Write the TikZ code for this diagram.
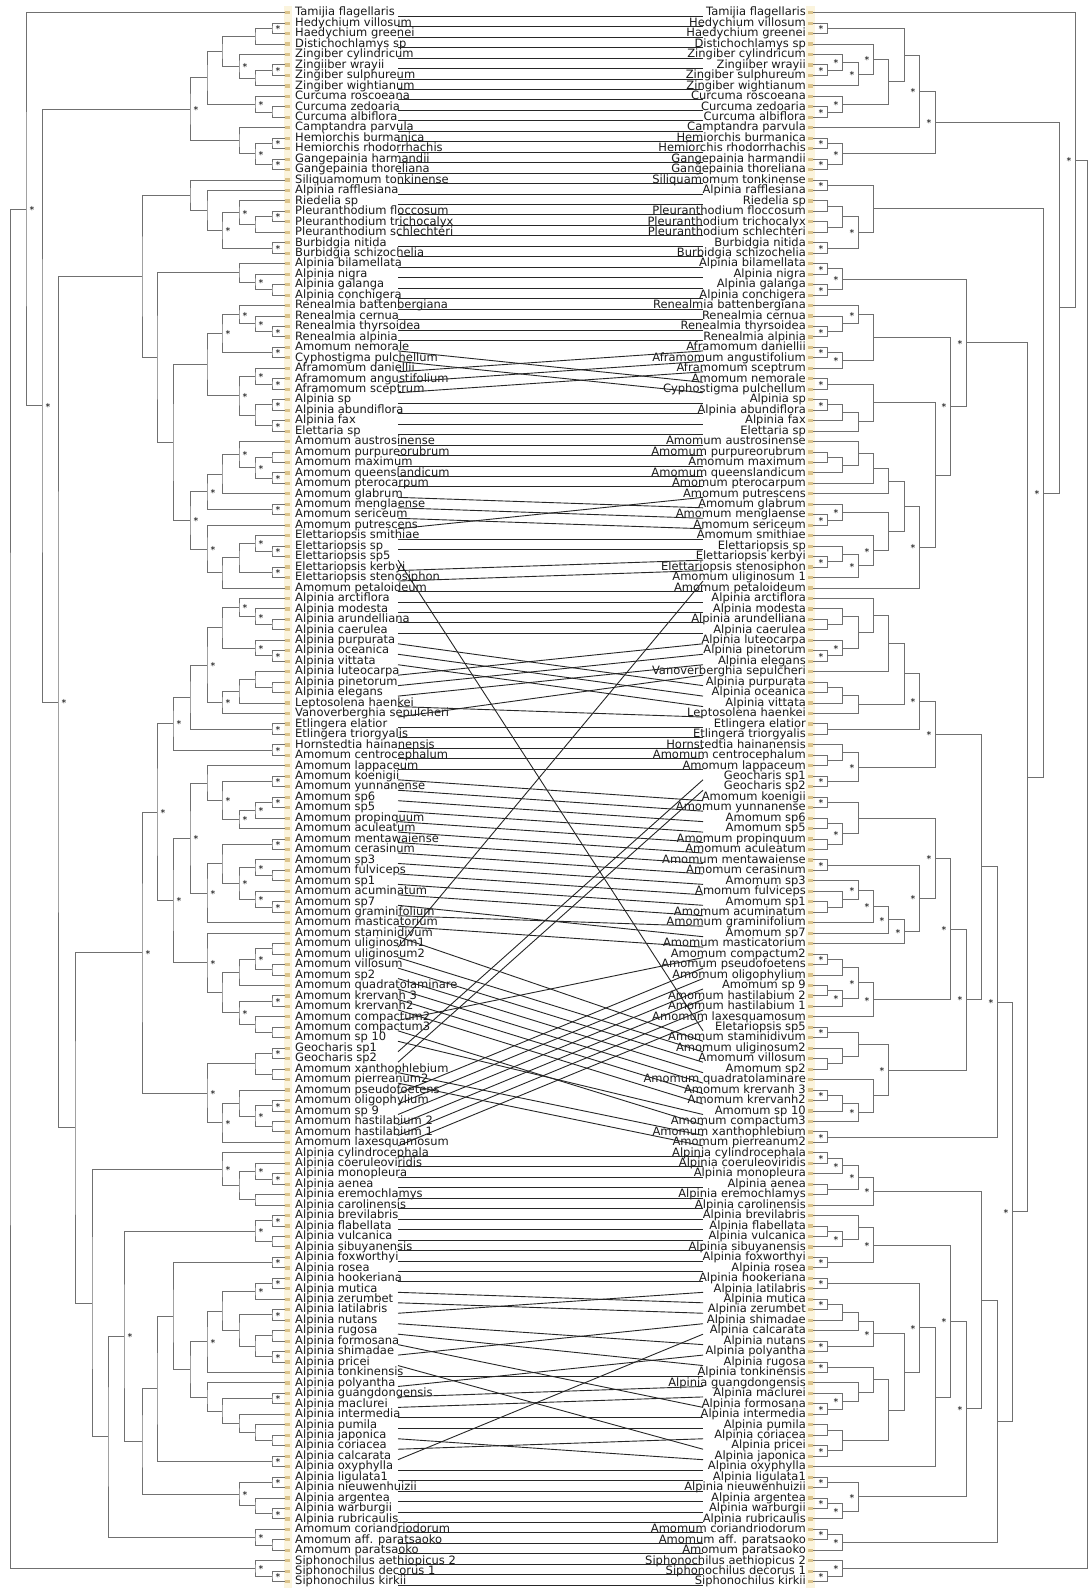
\documentclass[tikz,border=0pt]{standalone}
\usepackage{fontspec}
\setmainfont{DejaVu Sans}
\usetikzlibrary{calc}
\definecolor{branchc}{HTML}{707070}
\definecolor{connc}{HTML}{262626}
\definecolor{tipc}{HTML}{DCC48C}
\definecolor{bandc}{HTML}{FBF4DD}
\definecolor{txtc}{HTML}{1A1A1A}
\tikzset{
  branch/.style={draw=branchc, line width=1pt},
  conn/.style={draw=connc, line width=0.9pt},
  lab/.style={font=\fontsize{11.5}{12}\selectfont, text=txtc, inner sep=0pt},
  astl/.style={font=\fontsize{9.5}{9.5}\selectfont, text=black, inner sep=0pt, text height=7pt, text depth=0pt, xshift=6pt, yshift=-0.8pt},
  astr/.style={font=\fontsize{9.5}{9.5}\selectfont, text=black, inner sep=0pt, text height=7pt, text depth=0pt, xshift=-6pt, yshift=-0.8pt},
}
% internal tree node: name, x, child A, child B
\newcommand\TN[4]{\path let \p1=($(#3)!0.5!(#4)$) in coordinate (#1) at (#2pt,\y1);\draw[branch] (#3) -| (#1) |- (#4);}
\newcommand\TNl[4]{\TN{#1}{#2}{#3}{#4}\node[astl] (#1s) at (#1) {*};}
\newcommand\TNr[4]{\TN{#1}{#2}{#3}{#4}\node[astr] (#1s) at (#1) {*};}
\begin{document}
\begin{tikzpicture}[x=1pt,y=-1pt]
\fill[white] (0,0) rectangle (1088,1589);
\useasboundingbox (0,0) rectangle (1088,1589);
\fill[bandc] (284,6) rectangle (292,1588);
\fill[bandc] (806,6) rectangle (815,1588);
% left taxa
\foreach \n [count=\i] in {Tamijia flagellaris, Hedychium villosum, Haedychium greenei, Distichochlamys sp, Zingiber cylindricum, Zingiiber wrayii, Zingiber sulphureum, Zingiber wightianum, Curcuma roscoeana, Curcuma zedoaria, Curcuma albiflora, Camptandra parvula, Hemiorchis burmanica, Hemiorchis rhodorrhachis, Gangepainia harmandii, Gangepainia thoreliana, Siliquamomum tonkinense, Alpinia rafflesiana, Riedelia sp, Pleuranthodium floccosum, Pleuranthodium trichocalyx, Pleuranthodium schlechteri, Burbidgia nitida, Burbidgia schizochelia, Alpinia bilamellata, Alpinia nigra, Alpinia galanga, Alpinia conchigera, Renealmia battenbergiana, Renealmia cernua, Renealmia thyrsoidea, Renealmia alpinia, Amomum nemorale, Cyphostigma pulchellum, Aframomum daniellii, Aframomum angustifolium, Aframomum sceptrum, Alpinia sp, Alpinia abundiflora, Alpinia fax, Elettaria sp, Amomum austrosinense, Amomum purpureorubrum, Amomum maximum, Amomum queenslandicum, Amomum pterocarpum, Amomum glabrum, Amomum menglaense, Amomum sericeum, Amomum putrescens, Elettariopsis smithiae, Elettariopsis sp, Elettariopsis sp5, Elettariopsis kerbyi, Elettariopsis stenosiphon, Amomum petaloideum, Alpinia arctiflora, Alpinia modesta, Alpinia arundelliana, Alpinia caerulea, Alpinia purpurata, Alpinia oceanica, Alpinia vittata, Alpinia luteocarpa, Alpinia pinetorum, Alpinia elegans, Leptosolena haenkei, Vanoverberghia sepulcheri, Etlingera elatior, Etlingera triorgyalis, Hornstedtia hainanensis, Amomum centrocephalum, Amomum lappaceum, Amomum koenigii, Amomum yunnanense, Amomum sp6, Amomum sp5, Amomum propinquum, Amomum aculeatum, Amomum mentawaiense, Amomum cerasinum, Amomum sp3, Amomum fulviceps, Amomum sp1, Amomum acuminatum, Amomum sp7, Amomum graminifolium, Amomum masticatorium, Amomum staminidivum, Amomum uliginosum1, Amomum uliginosum2, Amomum villosum, Amomum sp2, Amomum quadratolaminare, Amomum krervanh 3, Amomum krervanh2, Amomum compactum2, Amomum compactum3, Amomum sp 10, Geocharis sp1, Geocharis sp2, Amomum xanthophlebium, Amomum pierreanum2, Amomum pseudofoetens, Amomum oligophylium, Amomum sp 9, Amomum hastilabium 2, Amomum hastilabium 1, Amomum laxesquamosum, Alpinia cylindrocephala, Alpinia coeruleoviridis, Alpinia monopleura, Alpinia aenea, Alpinia eremochlamys, Alpinia carolinensis, Alpinia brevilabris, Alpinia flabellata, Alpinia vulcanica, Alpinia sibuyanensis, Alpinia foxworthyi, Alpinia rosea, Alpinia hookeriana, Alpinia mutica, Alpinia zerumbet, Alpinia latilabris, Alpinia nutans, Alpinia rugosa, Alpinia formosana, Alpinia shimadae, Alpinia pricei, Alpinia tonkinensis, Alpinia polyantha, Alpinia guangdongensis, Alpinia maclurei, Alpinia intermedia, Alpinia pumila, Alpinia japonica, Alpinia coriacea, Alpinia calcarata, Alpinia oxyphylla, Alpinia ligulata1, Alpinia nieuwenhuizii, Alpinia argentea, Alpinia warburgii, Alpinia rubricaulis, Amomum coriandriodorum, Amomum aff. paratsaoko, Amomum paratsaoko, Siphonochilus aethiopicus 2, Siphonochilus decorus 1, Siphonochilus kirkii}{
  \pgfmathsetmacro\yy{12.7+(\i-1)*10.46}
  \coordinate (lt\i) at (285,\yy);
  \coordinate (lc\i) at (398,{\yy+3.5});
  \node[lab,anchor=base west] (ll\i) at (295,{\yy+3.2}) {\n};
}
% right taxa
\foreach \n [count=\i] in {Tamijia flagellaris, Hedychium villosum, Haedychium greenei, Distichochlamys sp, Zingiber cylindricum, Zingiiber wrayii, Zingiber sulphureum, Zingiber wightianum, Curcuma roscoeana, Curcuma zedoaria, Curcuma albiflora, Camptandra parvula, Hemiorchis burmanica, Hemiorchis rhodorrhachis, Gangepainia harmandii, Gangepainia thoreliana, Siliquamomum tonkinense, Alpinia rafflesiana, Riedelia sp, Pleuranthodium floccosum, Pleuranthodium trichocalyx, Pleuranthodium schlechteri, Burbidgia nitida, Burbidgia schizochelia, Alpinia bilamellata, Alpinia nigra, Alpinia galanga, Alpinia conchigera, Renealmia battenbergiana, Renealmia cernua, Renealmia thyrsoidea, Renealmia alpinia, Aframomum daniellii, Aframomum angustifolium, Aframomum sceptrum, Amomum nemorale, Cyphostigma pulchellum, Alpinia sp, Alpinia abundiflora, Alpinia fax, Elettaria sp, Amomum austrosinense, Amomum purpureorubrum, Amomum maximum, Amomum queenslandicum, Amomum pterocarpum, Amomum putrescens, Amomum glabrum, Amomum menglaense, Amomum sericeum, Amomum smithiae, Elettariopsis sp, Elettariopsis kerbyi, Elettariopsis stenosiphon, Amomum uliginosum 1, Amomum petaloideum, Alpinia arctiflora, Alpinia modesta, Alpinia arundelliana, Alpinia caerulea, Alpinia luteocarpa, Alpinia pinetorum, Alpinia elegans, Vanoverberghia sepulcheri, Alpinia purpurata, Alpinia oceanica, Alpinia vittata, Leptosolena haenkei, Etlingera elatior, Etlingera triorgyalis, Hornstedtia hainanensis, Amomum centrocephalum, Amomum lappaceum, Geocharis sp1, Geocharis sp2, Amomum koenigii, Amomum yunnanense, Amomum sp6, Amomum sp5, Amomum propinquum, Amomum aculeatum, Amomum mentawaiense, Amomum cerasinum, Amomum sp3, Amomum fulviceps, Amomum sp1, Amomum acuminatum, Amomum graminifolium, Amomum sp7, Amomum masticatorium, Amomum compactum2, Amomum pseudofoetens, Amomum oligophylium, Amomum sp 9, Amomum hastilabium 2, Amomum hastilabium 1, Amomum laxesquamosum, Eletariopsis sp5, Amomum staminidivum, Amomum uliginosum2, Amomum villosum, Amomum sp2, Amomum quadratolaminare, Amomum krervanh 3, Amomum krervanh2, Amomum sp 10, Amomum compactum3, Amomum xanthophlebium, Amomum pierreanum2, Alpinia cylindrocephala, Alpinia coeruleoviridis, Alpinia monopleura, Alpinia aenea, Alpinia eremochlamys, Alpinia carolinensis, Alpinia brevilabris, Alpinia flabellata, Alpinia vulcanica, Alpinia sibuyanensis, Alpinia foxworthyi, Alpinia rosea, Alpinia hookeriana, Alpinia latilabris, Alpinia mutica, Alpinia zerumbet, Alpinia shimadae, Alpinia calcarata, Alpinia nutans, Alpinia polyantha, Alpinia rugosa, Alpinia tonkinensis, Alpinia guangdongensis, Alpinia maclurei, Alpinia formosana, Alpinia intermedia, Alpinia pumila, Alpinia coriacea, Alpinia pricei, Alpinia japonica, Alpinia oxyphylla, Alpinia ligulata1, Alpinia nieuwenhuizii, Alpinia argentea, Alpinia warburgii, Alpinia rubricaulis, Amomum coriandriodorum, Amomum aff. paratsaoko, Amomum paratsaoko, Siphonochilus aethiopicus 2, Siphonochilus decorus 1, Siphonochilus kirkii}{
  \pgfmathsetmacro\yy{12.7+(\i-1)*10.46}
  \coordinate (rt\i) at (813,\yy);
  \coordinate (rc\i) at (703,{\yy+3.5});
  \node[lab,anchor=base east] (rl\i) at (806,{\yy+3.2}) {\n};
}
% connectors
\foreach \a/\b in {1/1,2/2,3/3,4/4,5/5,6/6,7/7,8/8,9/9,10/10,11/11,12/12,13/13,14/14,15/15,16/16,17/17,18/18,19/19,20/20,21/21,22/22,23/23,24/24,25/25,26/26,27/27,28/28,29/29,30/30,31/31,32/32,33/36,34/37,35/33,36/34,37/35,38/38,39/39,40/40,41/41,42/42,43/43,44/44,45/45,46/46,47/48,48/49,49/50,50/47,51/51,52/52,53/98,54/53,55/54,56/56,57/57,58/58,59/59,60/60,61/65,62/66,63/67,64/61,65/62,66/63,67/68,68/64,69/69,70/70,71/71,72/72,73/73,74/76,75/77,76/78,77/79,78/80,79/81,80/82,81/83,82/84,83/85,84/86,85/87,86/89,87/88,88/90,89/99,90/55,91/100,92/101,93/102,94/103,95/104,96/105,97/91,98/107,99/106,100/74,101/75,102/108,103/109,104/92,105/93,106/94,107/95,108/96,109/97,110/110,111/111,112/112,113/113,114/114,115/115,116/116,117/117,118/118,119/119,120/120,121/121,122/122,123/124,124/125,125/123,126/128,127/130,128/134,129/126,130/138,131/131,132/129,133/132,134/133,135/135,136/136,137/139,138/137,139/127,140/140,141/141,142/142,143/143,144/144,145/145,146/146,147/147,148/148,149/149,150/150,151/151}
  {\draw[conn] (lc\a) -- (rc\b);}
% ---------- left tree ----------
\TNl{LA1}{272}{lt2}{lt3}
\TN{LA2}{255}{LA1}{lt4}
\TNl{LA3}{272}{lt6}{lt7}
\TN{LA4}{255}{LA3}{lt8}
\TNl{LA5}{239}{lt5}{LA4}
\TN{LA6}{222}{LA2}{LA5}
\TN{LA7}{272}{lt10}{lt11}
\TNl{LA8}{255}{lt9}{LA7}
\TN{LA9}{207}{LA6}{LA8}
\TNl{LA10}{272}{lt13}{lt14}
\TNl{LA11}{272}{lt15}{lt16}
\TNl{LA12}{255}{LA10}{LA11}
\TN{LA13}{239}{lt12}{LA12}
\TNl{LA14}{190}{LA9}{LA13}
\TNl{LB1}{272}{lt20}{lt21}
\TN{LB2}{255}{LB1}{lt22}
\TNl{LB3}{239}{lt19}{LB2}
\TNl{LB4}{272}{lt23}{lt24}
\TNl{LB5}{222}{LB3}{LB4}
\TN{LB6}{207}{lt18}{LB5}
\TN{LB7}{190}{lt17}{LB6}
\TN{LC1}{272}{lt27}{lt28}
\TNl{LC2}{255}{lt26}{LC1}
\TN{LC3}{239}{lt25}{LC2}
\TNl{LD1}{272}{lt31}{lt32}
\TNl{LD2}{255}{lt30}{LD1}
\TNl{LD3}{239}{lt29}{LD2}
\TNl{LD4}{272}{lt33}{lt34}
\TNl{LD5}{222}{LD3}{LD4}
\TNl{LD6}{272}{lt36}{lt37}
\TNl{LD7}{255}{lt35}{LD6}
\TNl{LD8}{272}{lt38}{lt39}
\TNl{LD9}{272}{lt40}{lt41}
\TN{LD10}{255}{LD8}{LD9}
\TNl{LD11}{239}{LD7}{LD10}
\TN{LD12}{207}{LD5}{LD11}
\TN{LE1}{272}{lt43}{lt44}
\TNl{LE2}{272}{lt45}{lt46}
\TNl{LE3}{255}{LE1}{LE2}
\TNl{LE4}{239}{lt42}{LE3}
\TN{LE5}{222}{LE4}{lt47}
\TNl{LE6}{272}{lt48}{lt49}
\TNl{LE7}{207}{LE5}{LE6}
\TNl{LE8}{272}{lt52}{lt53}
\TNl{LE9}{255}{lt51}{LE8}
\TNl{LE10}{272}{lt54}{lt55}
\TN{LE11}{239}{LE9}{LE10}
\TN{LE12}{222}{LE11}{lt56}
\TNl{LE13}{207}{lt50}{LE12}
\TNl{LE14}{190}{LE7}{LE13}
\TN{LE15}{173}{LD12}{LE14}
\TN{LE16}{157}{LC3}{LE15}
\TN{LE17}{142}{LB7}{LE16}
\TN{LF1}{272}{lt59}{lt60}
\TNl{LF2}{255}{lt58}{LF1}
\TNl{LF3}{239}{lt57}{LF2}
\TNl{LF4}{272}{lt62}{lt63}
\TNl{LF5}{255}{lt61}{LF4}
\TN{LF6}{222}{LF3}{LF5}
\TN{LF7}{272}{lt65}{lt66}
\TN{LF8}{255}{lt64}{LF7}
\TN{LF9}{239}{LF8}{lt67}
\TNl{LF10}{222}{LF9}{lt68}
\TNl{LF11}{207}{LF6}{LF10}
\TNl{LF12}{272}{lt69}{lt70}
\TN{LF13}{190}{LF11}{LF12}
\TNl{LF14}{272}{lt71}{lt72}
\TNl{LF15}{173}{LF13}{LF14}
\TNl{LG1}{272}{lt74}{lt75}
\TNl{LG2}{272}{lt76}{lt77}
\TNl{LG3}{255}{LG2}{lt78}
\TNl{LG4}{239}{LG3}{lt79}
\TNl{LG5}{222}{LG1}{LG4}
\TN{LG6}{207}{lt73}{LG5}
\TNl{LG7}{272}{lt80}{lt81}
\TN{LG8}{272}{lt83}{lt84}
\TNl{LG9}{255}{lt82}{LG8}
\TNl{LG10}{272}{lt86}{lt87}
\TNl{LG11}{255}{lt85}{LG10}
\TNl{LG12}{239}{LG9}{LG11}
\TN{LG13}{222}{LG7}{LG12}
\TNl{LG14}{207}{LG13}{lt88}
\TNl{LG15}{190}{LG6}{LG14}
\TN{LG16}{272}{lt90}{lt91}
\TN{LG17}{272}{lt92}{lt93}
\TNl{LG18}{255}{LG16}{LG17}
\TN{LG19}{239}{LG18}{lt94}
\TNl{LG20}{272}{lt95}{lt96}
\TN{LG21}{272}{lt98}{lt99}
\TN{LG22}{255}{lt97}{LG21}
\TNl{LG23}{239}{LG20}{LG22}
\TN{LG24}{222}{LG19}{LG23}
\TNl{LG25}{207}{lt89}{LG24}
\TNl{LG26}{173}{LG15}{LG25}
\TNl{LG27}{157}{LF15}{LG26}
\TNl{LG28}{272}{lt100}{lt101}
\TN{LG29}{272}{lt102}{lt103}
\TN{LG30}{255}{LG28}{LG29}
\TNl{LG31}{272}{lt105}{lt106}
\TN{LG32}{272}{lt107}{lt108}
\TNl{LG33}{255}{LG31}{LG32}
\TN{LG34}{239}{lt104}{LG33}
\TNl{LG35}{222}{LG34}{lt109}
\TNl{LG36}{207}{LG30}{LG35}
\TNl{LG37}{142}{LG27}{LG36}
\TNl{LH1}{272}{lt112}{lt113}
\TNl{LH2}{255}{lt111}{LH1}
\TN{LH3}{255}{lt114}{lt115}
\TN{LH4}{239}{LH2}{LH3}
\TNl{LH5}{222}{lt110}{LH4}
\TNl{LI1}{272}{lt116}{lt117}
\TN{LI2}{272}{lt118}{lt119}
\TNl{LI3}{255}{LI1}{LI2}
\TNl{LI4}{272}{lt120}{lt121}
\TNl{LI5}{272}{lt122}{lt123}
\TNl{LI6}{255}{LI5}{lt124}
\TNl{LI7}{272}{lt125}{lt126}
\TN{LI8}{272}{lt127}{lt128}
\TNl{LI9}{272}{lt129}{lt130}
\TN{LI10}{255}{LI8}{LI9}
\TN{LI11}{239}{LI7}{LI10}
\TN{LI12}{222}{LI6}{LI11}
\TNl{LI13}{207}{LI12}{lt131}
\TNl{LI14}{272}{lt133}{lt134}
\TN{LI15}{272}{lt137}{lt138}
\TN{LI16}{255}{lt136}{LI15}
\TN{LI17}{239}{lt135}{LI16}
\TN{LI18}{222}{LI14}{LI17}
\TN{LI19}{207}{lt132}{LI18}
\TN{LI20}{190}{LI13}{LI19}
\TN{LI21}{173}{LI4}{LI20}
\TNl{LI22}{272}{lt139}{lt140}
\TN{LI23}{157}{LI21}{LI22}
\TNl{LI24}{272}{lt141}{lt142}
\TNl{LI25}{272}{lt144}{lt145}
\TN{LI26}{255}{lt143}{LI25}
\TNl{LI27}{239}{LI24}{LI26}
\TN{LI28}{142}{LI23}{LI27}
\TNl{LI29}{124}{LI3}{LI28}
\TN{LI30}{272}{lt147}{lt148}
\TNl{LI31}{255}{lt146}{LI30}
\TN{LI32}{108}{LI29}{LI31}
\TN{LI33}{92}{LH5}{LI32}
\TN{LI34}{75}{LG37}{LI33}
\TNl{LI35}{58}{LE17}{LI34}
\TNl{LI36}{42}{LA14}{LI35}
\TNl{LI37}{26}{lt1}{LI36}
\TNl{LS1}{272}{lt150}{lt151}
\TNl{LS2}{255}{lt149}{LS1}
\TN{Lroot}{10}{LI37}{LS2}
% ---------- right tree ----------
\TNr{Ra1}{827}{rt2}{rt3}
\TNr{Ra2}{827}{rt6}{rt7}
\TNr{Ra3}{842}{rt5}{Ra2}
\TNr{Ra4}{858}{Ra3}{rt8}
\TNr{Ra5}{873}{rt4}{Ra4}
\TNr{Ra6}{827}{rt10}{rt11}
\TNr{Ra7}{842}{rt9}{Ra6}
\TN{Ra8}{888}{Ra5}{Ra7}
\TN{Ra9}{904}{Ra1}{Ra8}
\TNr{Ra10}{919}{Ra9}{rt12}
\TNr{Ra11}{827}{rt13}{rt14}
\TNr{Ra12}{827}{rt15}{rt16}
\TNr{Ra13}{842}{Ra11}{Ra12}
\TNr{Ra14}{935}{Ra10}{Ra13}
\TNr{Rb1}{827}{rt17}{rt18}
\TN{Rb2}{827}{rt19}{rt20}
\TN{Rb3}{827}{rt21}{rt22}
\TN{Rb4}{842}{Rb2}{Rb3}
\TNr{Rb5}{827}{rt23}{rt24}
\TNr{Rb6}{858}{Rb4}{Rb5}
\TN{Rb7}{873}{Rb1}{Rb6}
\TNr{Rc1}{827}{rt25}{rt26}
\TNr{Rc2}{827}{rt27}{rt28}
\TNr{Rc3}{842}{Rc1}{Rc2}
\TNr{Rd1}{827}{rt31}{rt32}
\TN{Rd2}{842}{rt30}{Rd1}
\TNr{Rd3}{858}{rt29}{Rd2}
\TNr{Rd4}{827}{rt33}{rt34}
\TNr{Rd5}{842}{Rd4}{rt35}
\TN{Rd6}{873}{Rd3}{Rd5}
\TNr{Rd7}{827}{rt36}{rt37}
\TNr{Rd8}{827}{rt38}{rt39}
\TN{Rd9}{842}{Rd8}{rt40}
\TN{Rd10}{858}{Rd9}{rt41}
\TN{Rd11}{873}{Rd7}{Rd10}
\TN{Re1}{827}{rt43}{rt44}
\TN{Re2}{842}{Re1}{rt45}
\TN{Re3}{858}{rt42}{Re2}
\TN{Re4}{873}{Re3}{rt46}
\TN{Re5}{888}{Re4}{rt47}
\TNr{Re6}{827}{rt49}{rt50}
\TNr{Re7}{842}{rt48}{Re6}
\TNr{Re8}{827}{rt53}{rt54}
\TN{Re9}{842}{rt52}{Re8}
\TNr{Re10}{858}{Re9}{rt55}
\TNr{Re11}{873}{rt51}{Re10}
\TN{Re12}{888}{Re7}{Re11}
\TN{Re13}{904}{Re5}{Re12}
\TNr{Re14}{919}{Re13}{rt56}
\TN{Re15}{935}{Rd11}{Re14}
\TNr{Re16}{950}{Rd6}{Re15}
\TNr{Re17}{966}{Rc3}{Re16}
\TN{Rf1}{827}{rt59}{rt60}
\TN{Rf2}{842}{rt58}{Rf1}
\TNr{Rf3}{827}{rt62}{rt63}
\TNr{Rf4}{842}{rt61}{Rf3}
\TN{Rf5}{858}{Rf2}{Rf4}
\TN{Rf6}{873}{rt57}{Rf5}
\TN{Rf7}{888}{Rf6}{rt64}
\TN{Rf8}{827}{rt65}{rt66}
\TN{Rf9}{842}{Rf8}{rt67}
\TN{Rf10}{858}{Rf9}{rt68}
\TN{Rf11}{904}{Rf7}{Rf10}
\TN{Rf12}{827}{rt69}{rt70}
\TNr{Rf13}{919}{Rf11}{Rf12}
\TN{Rf14}{827}{rt72}{rt73}
\TN{Rf15}{842}{rt71}{Rf14}
\TNr{Rf16}{827}{rt74}{rt75}
\TNr{Rf17}{858}{Rf15}{Rf16}
\TNr{Rf18}{935}{Rf13}{Rf17}
\TNr{Rg1}{827}{rt76}{rt77}
\TN{Rg2}{827}{rt78}{rt79}
\TN{Rg3}{827}{rt80}{rt81}
\TNr{Rg4}{842}{Rg2}{Rg3}
\TN{Rg5}{858}{Rg1}{Rg4}
\TNr{Rg6}{827}{rt82}{rt83}
\TN{Rg7}{827}{rt86}{rt87}
\TN{Rg8}{842}{rt85}{Rg7}
\TNr{Rg9}{858}{rt84}{Rg8}
\TNr{Rg10}{873}{Rg9}{rt88}
\TNr{Rg11}{888}{Rg10}{rt89}
\TNr{Rg12}{904}{Rg11}{rt90}
\TNr{Rg13}{919}{Rg6}{Rg12}
\TNr{Rg14}{935}{Rg5}{Rg13}
\TNr{Rg15}{827}{rt91}{rt92}
\TN{Rg16}{842}{Rg15}{rt93}
\TN{Rg17}{827}{rt94}{rt95}
\TNr{Rg18}{842}{Rg17}{rt96}
\TNr{Rg19}{858}{Rg16}{Rg18}
\TNr{Rg20}{873}{Rg19}{rt97}
\TNr{Rg21}{950}{Rg14}{Rg20}
\TNr{Rg22}{827}{rt98}{rt99}
\TN{Rg23}{827}{rt101}{rt102}
\TN{Rg24}{842}{rt100}{Rg23}
\TN{Rg25}{858}{Rg22}{Rg24}
\TNr{Rg26}{827}{rt104}{rt105}
\TN{Rg27}{842}{Rg26}{rt106}
\TNr{Rg28}{858}{Rg27}{rt107}
\TN{Rg29}{873}{rt103}{Rg28}
\TNr{Rg30}{888}{Rg25}{Rg29}
\TNr{Rg31}{966}{Rg21}{Rg30}
\TN{Rg32}{981}{Rf18}{Rg31}
\TNr{Rg33}{827}{rt108}{rt109}
\TNr{Rg34}{997}{Rg32}{Rg33}
\TNr{Rh1}{827}{rt110}{rt111}
\TNr{Rh2}{842}{Rh1}{rt112}
\TN{Rh3}{827}{rt113}{rt114}
\TNr{Rh4}{858}{Rh2}{Rh3}
\TNr{Rh5}{873}{Rh4}{rt115}
\TN{Ri1}{827}{rt117}{rt118}
\TNr{Ri2}{842}{Ri1}{rt119}
\TN{Ri3}{858}{rt116}{Ri2}
\TNr{Ri4}{827}{rt120}{rt121}
\TNr{Ri5}{873}{Ri3}{Ri4}
\TNr{Ri6}{827}{rt122}{rt123}
\TNr{Ri7}{827}{rt124}{rt125}
\TN{Ri8}{842}{Ri7}{rt126}
\TN{Ri9}{858}{Ri8}{rt127}
\TNr{Ri10}{827}{rt128}{rt129}
\TNr{Ri11}{873}{Ri9}{Ri10}
\TNr{Ri12}{827}{rt130}{rt131}
\TNr{Ri13}{827}{rt134}{rt135}
\TNr{Ri14}{842}{rt133}{Ri13}
\TN{Ri15}{858}{rt132}{Ri14}
\TN{Ri16}{873}{Ri12}{Ri15}
\TN{Ri17}{827}{rt136}{rt137}
\TNr{Ri18}{827}{rt138}{rt139}
\TN{Ri19}{842}{Ri17}{Ri18}
\TN{Ri20}{888}{Ri16}{Ri19}
\TN{Ri21}{904}{Ri11}{Ri20}
\TNr{Ri22}{919}{Ri6}{Ri21}
\TN{Ri23}{935}{Ri22}{rt140}
\TNr{Ri24}{950}{Ri5}{Ri23}
\TNr{Ri25}{827}{rt141}{rt142}
\TNr{Ri26}{827}{rt143}{rt144}
\TNr{Ri27}{842}{Ri26}{rt145}
\TNr{Ri28}{858}{Ri25}{Ri27}
\TNr{Ri29}{966}{Ri24}{Ri28}
\TN{Ri30}{981}{Rh5}{Ri29}
\TNr{Ri31}{827}{rt146}{rt147}
\TNr{Ri32}{842}{Ri31}{rt148}
\TN{Ri33}{997}{Ri30}{Ri32}
\TNr{Ri34}{1012}{Rg34}{Ri33}
\TN{Ri35}{1027}{Re17}{Ri34}
\TNr{Ri36}{1043}{Rb7}{Ri35}
\TN{Ri37}{1059}{Ra14}{Ri36}
\TNr{Ri38}{1075}{rt1}{Ri37}
\TNr{Rs1}{827}{rt150}{rt151}
\TNr{Rs2}{842}{rt149}{Rs1}
\TN{Rroot}{1087}{Ri38}{Rs2}
% tip markers
\foreach \i in {1,...,151}{
  \pgfmathsetmacro\yy{12.7+(\i-1)*10.46}
  \fill[tipc] (285,{\yy-1.6}) rectangle (290,{\yy+1.6});
  \fill[tipc] (808,{\yy-1.6}) rectangle (813,{\yy+1.6});
}
\end{tikzpicture}
\end{document}
